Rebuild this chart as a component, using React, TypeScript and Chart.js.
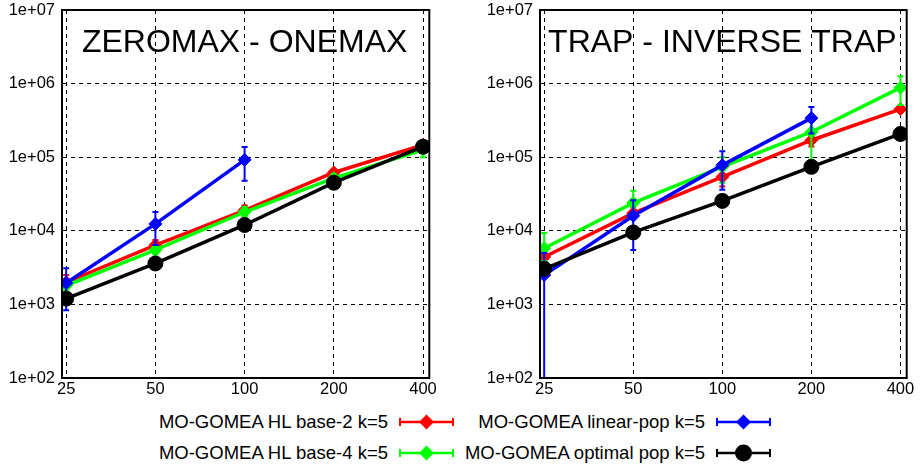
import React, { useEffect, useRef } from "react";
import { Chart, registerables } from "chart.js";
Chart.register(...registerables);

// ---------- data ----------
const sizes = [25, 50, 100, 200, 400];
const yTickValues = [1e2, 1e3, 1e4, 1e5, 1e6, 1e7];
const seriesNames = [
  "MO-GOMEA HL base-2 k=5",
  "MO-GOMEA linear-pop k=5",
  "MO-GOMEA HL base-4 k=5",
  "MO-GOMEA optimal pop k=5",
];

// ZEROMAX - ONEMAX
const zoBase2 = [2000, 6400, 19000, 62000, 147000];
const zoBase2Err = [[1700, 2500], [5500, 7500], [16500, 22000], [55000, 68000], [135000, 158000]];
const zoLinear = [1950, 12400, 92000, null, null];
const zoLinearErr = [[830, 3100], [6400, 18000], [48000, 138000], null, null];
const zoBase4 = [1800, 5500, 18000, 52000, 126000];
const zoBase4Err = [[1600, 2100], [4800, 6300], [15500, 21000], [46000, 58000], [100000, 140000]];
const zoOptimal = [1200, 3600, 12000, 45000, 139000];
const zoOptimalErr = [[1100, 1300], [3400, 3800], [11400, 12600], [43000, 47000], [133000, 145000]];

// TRAP - INVERSE TRAP
const trBase2 = [4400, 17400, 54000, 170000, 450000];
const trBase2Err = [[3800, 5100], [14500, 21000], [40000, 70000], [140000, 200000], [420000, 490000]];
const trLinear = [2500, 16000, 78000, 340000, null];
const trLinearErr = [[10, 5000], [5500, 26000], [36000, 120000], [210000, 480000], null];
const trBase4 = [5800, 24000, 74000, 220000, 880000];
const trBase4Err = [[3900, 9300], [17000, 35000], [45000, 100000], [92000, 300000], [510000, 1260000]];
const trOptimal = [3050, 9500, 25500, 74000, 207000];
const trOptimalErr = [[2900, 3200], [9000, 10000], [24500, 26500], [71000, 77000], [200000, 214000]];

// ---------- styles ----------
const FONT = '"Liberation Sans", Arial, Helvetica, sans-serif';
const RED = "#ff0000";
const GREEN = "#00ff00";
const BLUE = "#0000ff";
const BLACK = "#000000";

type Pt = { x: number; y: number; lo?: number; hi?: number };

function buildPoints(vals: (number | null)[], errs: (number[] | null)[]): Pt[] {
  const out: Pt[] = [];
  vals.forEach((v, i) => {
    if (v == null) return;
    const e = errs[i];
    out.push({ x: sizes[i], y: v, lo: e ? e[0] : undefined, hi: e ? e[1] : undefined });
  });
  return out;
}

function dataset(label: string, vals: (number | null)[], errs: (number[] | null)[], color: string, circle: boolean, order: number) {
  return {
    label,
    data: buildPoints(vals, errs),
    borderColor: color,
    backgroundColor: color,
    borderWidth: 3.5,
    pointStyle: circle ? "circle" : "rectRot",
    pointRadius: circle ? 7.5 : 6.5,
    pointBorderWidth: 1,
    pointBackgroundColor: color,
    pointBorderColor: color,
    tension: 0,
    fill: false,
    order,
  };
}

const errorBarPlugin = {
  id: "errorBars",
  afterDatasetDraw(chart: any, args: any) {
    const ds = chart.data.datasets[args.index];
    const { ctx, chartArea } = chart;
    const xs = chart.scales.x;
    const ys = chart.scales.y;
    ctx.save();
    ctx.beginPath();
    ctx.rect(chartArea.left, chartArea.top, chartArea.right - chartArea.left, chartArea.bottom - chartArea.top);
    ctx.clip();
    ctx.strokeStyle = ds.borderColor;
    ctx.lineWidth = 2;
    (ds.data as Pt[]).forEach((p) => {
      if (p.lo == null || p.hi == null) return;
      const px = xs.getPixelForValue(p.x);
      const y1 = ys.getPixelForValue(p.lo);
      const y2 = ys.getPixelForValue(p.hi);
      ctx.beginPath();
      ctx.moveTo(px, y1);
      ctx.lineTo(px, y2);
      ctx.moveTo(px - 3, y1);
      ctx.lineTo(px + 3, y1);
      ctx.moveTo(px - 3, y2);
      ctx.lineTo(px + 3, y2);
      ctx.stroke();
    });
    ctx.restore();
  },
};

const titlePlugin = {
  id: "panelTitle",
  beforeDatasetsDraw(chart: any, _args: any, opts: any) {
    const { ctx, chartArea } = chart;
    ctx.save();
    ctx.font = `32px ${FONT}`;
    ctx.fillStyle = "#000";
    ctx.textAlign = "center";
    ctx.textBaseline = "alphabetic";
    ctx.fillText(opts.text, (chartArea.left + chartArea.right) / 2 - 1, 52);
    ctx.restore();
  },
};

const framePlugin = {
  id: "frame",
  afterDraw(chart: any) {
    const { ctx, chartArea } = chart;
    ctx.save();
    ctx.strokeStyle = "#000";
    ctx.lineWidth = 2;
    ctx.strokeRect(chartArea.left, chartArea.top, chartArea.right - chartArea.left, chartArea.bottom - chartArea.top);
    ctx.restore();
  },
};

function Panel(props: { left: number; width: number; yAxisWidth: number; padRight: number; title: string; datasets: any[] }) {
  const ref = useRef<HTMLCanvasElement>(null);
  useEffect(() => {
    const chart = new Chart(ref.current as HTMLCanvasElement, {
      type: "line",
      data: { datasets: props.datasets },
      plugins: [errorBarPlugin, titlePlugin, framePlugin],
      options: {
        animation: false,
        responsive: false,
        maintainAspectRatio: false,
        layout: { padding: { left: 0, top: 10, right: props.padRight, bottom: 0 } },
        plugins: {
          legend: { display: false },
          tooltip: { enabled: false },
          panelTitle: { text: props.title },
        } as any,
        scales: {
          x: {
            type: "logarithmic",
            min: 24.2,
            max: 420,
            afterBuildTicks: (scale: any) => {
              scale.ticks = sizes.map((v) => ({ value: v }));
            },
            afterFit: (scale: any) => {
              scale.height = 22;
              scale.paddingLeft = 0;
              scale.paddingRight = 0;
              scale.paddingTop = 0;
              scale.paddingBottom = 0;
            },
            ticks: {
              autoSkip: false,
              maxRotation: 0,
              padding: 2,
              color: "#000",
              font: { family: FONT, size: 16.5 },
              callback: (v: any) => String(v),
            },
            grid: { color: "#000", lineWidth: 1, drawTicks: false },
            border: { display: true, color: "#000", width: 2, dash: [4, 4] },
          },
          y: {
            type: "logarithmic",
            min: 100,
            max: 1e7,
            afterBuildTicks: (scale: any) => {
              scale.ticks = yTickValues.map((v) => ({ value: v }));
            },
            afterFit: (scale: any) => {
              scale.width = props.yAxisWidth;
              scale.paddingLeft = 0;
              scale.paddingRight = 0;
              scale.paddingTop = 0;
              scale.paddingBottom = 0;
            },
            ticks: {
              autoSkip: false,
              padding: 7,
              color: "#000",
              font: { family: FONT, size: 16.5 },
              callback: (v: any) => "1e+" + String(Math.round(Math.log10(Number(v)))).padStart(2, "0"),
            },
            grid: { color: "#000", lineWidth: 1, drawTicks: false },
            border: { display: true, color: "#000", width: 2, dash: [4, 4] },
          },
        },
      } as any,
    });
    return () => chart.destroy();
  }, []);
  return (
    <canvas
      ref={ref}
      width={props.width}
      height={400}
      style={{ position: "absolute", left: props.left, top: 0, width: props.width, height: 400 }}
    />
  );
}

function LegendItem(props: { textRight: number; cy: number; sampleLeft: number; color: string; circle: boolean; text: string }) {
  const { textRight, cy, sampleLeft, color, circle, text } = props;
  return (
    <>
      <div
        style={{
          position: "absolute",
          left: 0,
          width: textRight,
          top: cy - 11,
          height: 22,
          lineHeight: "22px",
          textAlign: "right",
          fontFamily: FONT,
          fontSize: 18.5,
          color: "#000",
          whiteSpace: "nowrap",
        }}
      >
        {text}
      </div>
      <svg
        width={60}
        height={22}
        style={{ position: "absolute", left: sampleLeft - 2, top: cy - 11 }}
      >
        <line x1={2} y1={11} x2={57} y2={11} stroke={color} strokeWidth={2.5} />
        <line x1={3} y1={7} x2={3} y2={15} stroke={color} strokeWidth={2} />
        <line x1={56} y1={7} x2={56} y2={15} stroke={color} strokeWidth={2} />
        {circle ? (
          <circle cx={29.5} cy={11} r={8.5} fill={color} />
        ) : (
          <polygon points="29.5,3.5 37,11 29.5,18.5 22,11" fill={color} />
        )}
      </svg>
    </>
  );
}

export default function App() {
  const zeroSets = [
    dataset(seriesNames[0], zoBase2, zoBase2Err, RED, false, 3),
    dataset(seriesNames[2], zoBase4, zoBase4Err, GREEN, false, 2),
    dataset(seriesNames[1], zoLinear, zoLinearErr, BLUE, false, 1),
    dataset(seriesNames[3], zoOptimal, zoOptimalErr, BLACK, true, 0),
  ];
  const trapSets = [
    dataset(seriesNames[0], trBase2, trBase2Err, RED, false, 3),
    dataset(seriesNames[2], trBase4, trBase4Err, GREEN, false, 2),
    dataset(seriesNames[1], trLinear, trLinearErr, BLUE, false, 1),
    dataset(seriesNames[3], trOptimal, trOptimalErr, BLACK, true, 0),
  ];
  return (
    <div style={{ position: "absolute", left: 0, top: 0, width: 924, height: 466, background: "#fff", overflow: "hidden" }}>
      <Panel left={0} width={462} yAxisWidth={62} padRight={32.7} title="ZEROMAX - ONEMAX" datasets={zeroSets} />
      <Panel left={462} width={462} yAxisWidth={78} padRight={17.3} title="TRAP - INVERSE TRAP" datasets={trapSets} />
      <LegendItem textRight={388} cy={422} sampleLeft={399} color={RED} circle={false} text={seriesNames[0]} />
      <LegendItem textRight={705} cy={422} sampleLeft={716} color={BLUE} circle={false} text={seriesNames[1]} />
      <LegendItem textRight={388} cy={453} sampleLeft={399} color={GREEN} circle={false} text={seriesNames[2]} />
      <LegendItem textRight={705} cy={453} sampleLeft={716} color={BLACK} circle={true} text={seriesNames[3]} />
    </div>
  );
}
